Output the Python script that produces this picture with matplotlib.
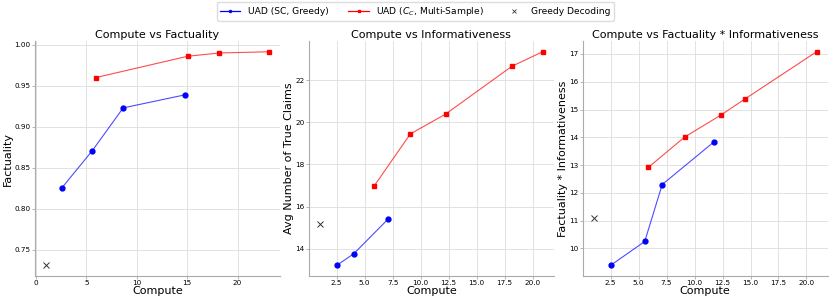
import numpy as np
import matplotlib.pyplot as plt

# compute vs factuality
fact_sc_x = [2.54, 5.6, 8.65, 14.8]
fact_sc_y = [0.825, 0.871, 0.923, 0.939]
fact_cc_x = [5.94, 15.05, 18.2, 23.1]
fact_cc_y = [0.960, 0.986, 0.990, 0.9915]
fact_greedy = (1.0, 0.731)

# compute vs informativeness
info_sc_x = [2.5, 4.02, 7.08]
info_sc_y = [13.21, 13.76, 15.40]
info_cc_x = [5.86, 9.08, 12.23, 18.15, 20.9]
info_cc_y = [16.99, 19.45, 20.39, 22.66, 23.35]
info_greedy = (1.0, 15.18)

# compute vs factuality * informativeness
prod_sc_x = [2.5, 5.55, 7.11, 11.72]
prod_sc_y = [9.39, 10.25, 12.30, 13.83]
prod_cc_x = [5.88, 9.12, 12.35, 14.54, 20.9]
prod_cc_y = [12.92, 14.01, 14.80, 15.39, 17.08]
prod_greedy = (1.0, 11.11)

panels = [
  ("Compute vs Factuality", "Factuality", fact_sc_x, fact_sc_y, fact_cc_x, fact_cc_y, fact_greedy),
  ("Compute vs Informativeness", "Avg Number of True Claims", info_sc_x, info_sc_y, info_cc_x, info_cc_y, info_greedy),
  ("Compute vs Factuality * Informativeness", "Factuality * Informativeness", prod_sc_x, prod_sc_y, prod_cc_x, prod_cc_y, prod_greedy),
]

fig, axes = plt.subplots(1, 3, figsize=(8.31, 3.02), dpi=100)
fig.subplots_adjust(left=0.042, right=0.996, bottom=0.086, top=0.864, wspace=0.118)

for ax, (title, ylabel, sx, sy, cx, cy, g) in zip(axes, panels):
  # lighter lines, opaque markers on top
  ax.plot(sx, sy, color='blue', linewidth=0.8, alpha=0.7)
  ax.plot(cx, cy, color='red', linewidth=0.8, alpha=0.7)
  ax.plot(sx, sy, linestyle='none', marker='o', markersize=3.5, color='blue')
  ax.plot(cx, cy, linestyle='none', marker='s', markersize=3.5, color='red')
  ax.plot([g[0]], [g[1]], linestyle='none', marker='x', color='#333333', markersize=4, markeredgewidth=0.7)
  ax.set_title(title, fontsize=8, pad=2)
  ax.set_xlabel("Compute", fontsize=8, labelpad=0)
  ax.set_ylabel(ylabel, fontsize=8, labelpad=1)
  ax.grid(True, color='#dddddd', linewidth=0.6)
  ax.set_axisbelow(True)
  for side in ('top', 'right'):
    ax.spines[side].set_visible(False)
  for side in ('left', 'bottom'):
    ax.spines[side].set_color('#aaaaaa')
    ax.spines[side].set_linewidth(0.8)
  ax.tick_params(labelsize=5.2, color='#aaaaaa', length=2, width=0.6, pad=1)

h1, = axes[0].plot([], [], color='blue', marker='o', markersize=1.5, linewidth=0.9)
h2, = axes[0].plot([], [], color='red', marker='s', markersize=1.5, linewidth=0.9)
h3, = axes[0].plot([], [], linestyle='none', marker='x', color='#333333', markersize=3.5, markeredgewidth=0.6)
fig.legend([h1, h2, h3], ["UAD (SC, Greedy)", "UAD ($C_C$, Multi-Sample)", "Greedy Decoding"],
           loc='upper center', ncol=3, fontsize=6.6, bbox_to_anchor=(0.5, 1.01),
           frameon=True, handlelength=2.2, columnspacing=2.2, borderpad=0.35,
           framealpha=1, edgecolor='#dddddd', fancybox=True)

fig.savefig("out.png", dpi=100)
